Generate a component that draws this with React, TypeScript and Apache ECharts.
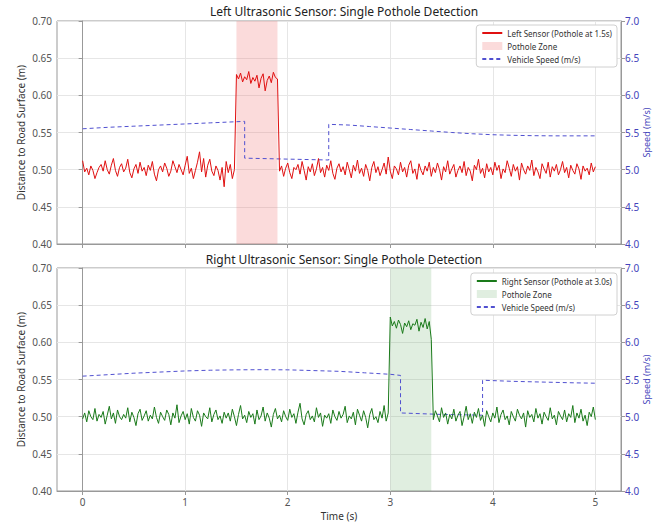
import React, { useEffect, useRef } from "react";
import * as echarts from "echarts";

// Sampling step of the sensor recordings (seconds)
const SAMPLE_STEP_S = 0.02;

// Left ultrasonic sensor readings (mm), t = 0 .. 5 s
const leftSensorMm = [
  512, 497, 502, 493, 505, 499, 488, 496, 503, 507,
  498, 512, 500, 494, 506, 515, 499, 491, 503, 508,
  497, 502, 514, 496, 489, 501, 507, 495, 510, 498,
  503, 492, 506, 499, 511, 494, 485, 500, 505, 497,
  509, 502, 491, 498, 512, 504, 496, 507, 500, 493,
  506, 518, 495, 502, 488, 499, 510, 524, 497, 515,
  490, 506, 514, 498, 492, 505, 499, 486, 503, 477,
  511, 496, 507, 488, 500,
  628, 622, 630, 618, 625, 621, 632, 616, 624, 619,
  627, 610, 623, 629, 606, 620, 626, 617, 631, 624, 622,
  498, 505, 491, 502, 509, 496, 488, 503, 500, 507,
  494, 511, 499, 486, 504, 497, 508, 492, 501, 515,
  496, 503, 490, 506, 499, 512, 495, 487, 502, 508,
  497, 504, 493, 510, 500, 489, 506, 498, 513, 495,
  502, 491, 507, 499, 485, 503, 511, 496, 504, 492,
  500, 509, 494, 517, 498, 488, 505, 501, 493, 510,
  497, 503, 490, 506, 512, 495, 501, 487, 508, 499,
  493, 505, 498, 510, 491, 503, 496, 509, 500, 486,
  504, 497, 512, 494, 501, 507, 490, 499, 505, 496,
  511, 492, 503, 498, 485, 506, 500, 514, 495, 502,
  489, 508, 497, 503, 493, 510, 499, 506, 488, 501,
  496, 512, 502, 491, 507, 498, 504, 486, 509, 500,
  494, 505, 499, 513, 492, 503, 497, 488, 508, 501,
  495, 510, 490, 504, 498, 507, 493, 500, 511, 496,
  503, 489, 506, 499, 494, 508, 501, 487, 505, 498,
  502, 493, 509, 497, 504,
];

// Right ultrasonic sensor readings (mm), t = 0 .. 5 s
const rightSensorMm = [
  497, 505, 493, 508, 500, 496, 511, 494, 503, 499,
  507, 490, 502, 514, 497, 505, 491, 509, 500, 496,
  503, 498, 512, 493, 506, 499, 488, 504, 510, 495,
  501, 508, 494, 502, 497, 513, 499, 491, 506, 500,
  495, 509, 503, 489, 505, 498, 516, 492, 501, 507,
  496, 504, 490, 511, 499, 494, 508, 502, 487, 505,
  500, 497, 512, 493, 503, 509, 496, 501, 491, 506,
  498, 505, 494, 510, 500, 488, 503, 515, 497, 502,
  492, 507, 499, 504, 490, 509, 496, 501, 513, 494,
  505, 498, 486, 503, 511, 497, 502, 493, 508, 500,
  495, 510, 499, 504, 491, 506, 518, 497, 489, 503,
  508, 496, 501, 493, 512, 499, 505, 487, 502, 498,
  504, 491, 509, 500, 495, 507, 498, 503, 514, 492,
  501, 497, 506, 489, 510, 502, 494, 508, 499, 485,
  503, 511, 496, 500, 492, 507, 498, 515, 494, 505,
  634, 622, 628, 619, 630, 624, 612, 626, 621, 629,
  617, 625, 623, 631, 615, 627, 620, 632, 618, 628, 604,
  496, 508, 501, 493, 512, 499, 505, 490, 503, 497,
  510, 494, 502, 507, 488, 500, 514, 496, 504, 491,
  506, 499, 511, 495, 502, 487, 508, 500, 493, 505,
  498, 513, 492, 503, 509, 496, 501, 489, 507, 500,
  494, 510, 502, 497, 505, 486, 508, 499, 503, 493,
  511, 498, 504, 490, 506, 500, 495, 512, 497, 502,
  489, 507, 501, 496, 509, 493, 504, 499, 515, 492,
  505, 498, 510, 494, 502, 488, 506, 500, 513, 496,
];

// Vehicle speed (m/s) as [time s, speed]
const leftSpeed: [number, number][] = [
  [0, 5.55], [0.25, 5.57], [0.5, 5.585], [0.75, 5.6], [1.0, 5.615],
  [1.25, 5.63], [1.5, 5.645], [1.58, 5.65], [1.58, 5.155], [1.8, 5.148],
  [2.0, 5.142], [2.2, 5.136], [2.4, 5.13], [2.4, 5.61], [2.6, 5.6],
  [2.8, 5.58], [3.0, 5.56], [3.2, 5.54], [3.4, 5.52], [3.6, 5.5],
  [3.8, 5.483], [4.0, 5.47], [4.2, 5.462], [4.4, 5.457], [4.6, 5.455],
  [4.8, 5.455], [5.0, 5.455],
];
const rightSpeed: [number, number][] = [
  [0, 5.545], [0.25, 5.565], [0.5, 5.585], [0.75, 5.6], [1.0, 5.615],
  [1.25, 5.625], [1.5, 5.63], [1.75, 5.632], [2.0, 5.63], [2.25, 5.62],
  [2.5, 5.61], [2.75, 5.59], [3.0, 5.57], [3.1, 5.555], [3.1, 5.05],
  [3.3, 5.04], [3.5, 5.03], [3.7, 5.025], [3.9, 5.02], [3.9, 5.49],
  [4.2, 5.475], [4.5, 5.465], [4.8, 5.455], [5.0, 5.45],
];

const leftZone = [1.5, 1.9];
const rightZone = [3.0, 3.4];
const timeTicks = [0, 1, 2, 3, 4, 5];

const FONT = "Noto Sans";
const SPEED_COLOR = "#5050d0";

const toSeries = (mm: number[]) =>
  mm.map((v, i) => [+(i * SAMPLE_STEP_S).toFixed(2), v / 1000]);

export default function App() {
  const ref = useRef<HTMLDivElement>(null);
  useEffect(() => {
    if (!ref.current) return;
    const chart = echarts.init(ref.current, undefined, { renderer: "svg" });

    const xAxisBase = (gridIndex: number, showLabels: boolean) => ({
      type: "value",
      gridIndex,
      min: -0.25,
      max: 5.25,
      name: showLabels ? "Time (s)" : "",
      nameLocation: "middle",
      nameGap: 20,
      nameTextStyle: { fontFamily: FONT, fontSize: 10, color: "#333" },
      axisLine: { show: true, lineStyle: { color: "#999" } },
      axisTick: { show: true, length: 4, lineStyle: { color: "#999" }, customValues: timeTicks },
      axisLabel: {
        show: showLabels,
        customValues: timeTicks,
        fontFamily: FONT,
        fontSize: 10,
        color: "#555",
        margin: 6,
      },
      splitLine: { show: true, lineStyle: { color: "#e6e6e6" } },
    });
    const yLeft = (gridIndex: number) => ({
      type: "value",
      gridIndex,
      min: 0.4,
      max: 0.7,
      interval: 0.05,
      name: "Distance to Road Surface (m)",
      nameLocation: "middle",
      nameGap: 31,
      nameMoveOverlap: false,
      nameTextStyle: { fontFamily: FONT, fontSize: 10, color: "#333" },
      axisLine: { show: true, lineStyle: { color: "#999" } },
      axisTick: { show: true, length: 4, lineStyle: { color: "#999" } },
      axisLabel: {
        formatter: (v: number) => v.toFixed(2),
        fontFamily: FONT,
        fontSize: 10,
        color: "#555",
        margin: 5,
      },
      splitLine: { show: true, lineStyle: { color: "#e6e6e6" } },
    });
    const yRight = (gridIndex: number) => ({
      type: "value",
      gridIndex,
      position: "right",
      min: 4,
      max: 7,
      interval: 0.5,
      name: "Speed (m/s)",
      nameLocation: "middle",
      nameGap: 21,
      nameMoveOverlap: false,
      nameTextStyle: { fontFamily: FONT, fontSize: 9, color: "#4444bb" },
      axisLine: { show: true, lineStyle: { color: "#999" } },
      axisTick: { show: true, length: 4, lineStyle: { color: "#999" } },
      axisLabel: {
        formatter: (v: number) => v.toFixed(1),
        fontFamily: FONT,
        fontSize: 10,
        color: "#4444bb",
        margin: 4,
      },
      splitLine: { show: false },
    });

    const legendBase = (top: number, names: string[], zoneName: string, zoneColor: string) => ({
      orient: "vertical",
      right: 36,
      top,
      backgroundColor: "#fff",
      borderColor: "#d0d0d0",
      borderWidth: 1,
      borderRadius: 3,
      padding: [4, 5, 4, 5],
      itemGap: 5,
      itemWidth: 20,
      itemHeight: 8,
      textStyle: { fontFamily: FONT, fontSize: 8, color: "#333" },
      formatter: (n: string) => n.replace(/ #\d$/, ""),
      data: names.map((n) =>
        n === zoneName
          ? { name: n, icon: "rect", itemStyle: { color: zoneColor } }
          : { name: n, itemStyle: { opacity: 0 } }
      ),
    });

    const sensorSeries = (name: string, idx: number, data: number[][], color: string) => ({
      name,
      type: "line",
      xAxisIndex: idx,
      yAxisIndex: idx * 2,
      data,
      symbol: "none",
      showSymbol: false,
      lineStyle: { color, width: 1 },
      itemStyle: { color },
      z: 3,
    });
    const zoneSeries = (name: string, idx: number, zone: number[], color: string) => ({
      name,
      type: "line",
      xAxisIndex: idx,
      yAxisIndex: idx * 2,
      data: [],
      symbol: "none",
      itemStyle: { color },
      lineStyle: { color },
      z: 1,
      markArea: {
        silent: true,
        itemStyle: { color },
        data: [[{ xAxis: zone[0] }, { xAxis: zone[1] }]],
      },
    });
    const speedSeries = (name: string, idx: number, data: [number, number][]) => ({
      name,
      type: "line",
      xAxisIndex: idx,
      yAxisIndex: idx * 2 + 1,
      data,
      symbol: "none",
      showSymbol: false,
      lineStyle: { color: SPEED_COLOR, width: 1, type: [4, 3] },
      itemStyle: { color: SPEED_COLOR },
      z: 2,
    });

    const pink = "rgba(238, 110, 110, 0.25)";
    const green = "rgba(100, 170, 100, 0.2)";
    const n1 = ["Left Sensor (Pothole at 1.5s)", "Pothole Zone", "Vehicle Speed (m/s)"];
    const n2 = ["Right Sensor (Pothole at 3.0s)", "Pothole Zone #2", "Vehicle Speed (m/s) #2"];

    const gridBase = {
      left: 57,
      right: 32,
      height: 223,
      show: true,
      borderColor: "#999",
      borderWidth: 1,
      outerBoundsMode: "none",
      containLabel: false,
    };

    chart.setOption({
      animation: false,
      backgroundColor: "#fff",
      title: [
        {
          text: "Left Ultrasonic Sensor: Single Pothole Detection",
          left: 339,
          textAlign: "center",
          top: 0,
          textStyle: { fontFamily: FONT, fontSize: 12, fontWeight: "normal", color: "#222" },
        },
        {
          text: "Right Ultrasonic Sensor: Single Pothole Detection",
          left: 339,
          textAlign: "center",
          top: 248,
          textStyle: { fontFamily: FONT, fontSize: 12, fontWeight: "normal", color: "#222" },
        },
      ],
      grid: [
        { ...gridBase, top: 21 },
        { ...gridBase, top: 268 },
      ],
      legend: [legendBase(25, n1, "Pothole Zone", pink), legendBase(273, n2, "Pothole Zone #2", green)],
      xAxis: [xAxisBase(0, false), xAxisBase(1, true)],
      yAxis: [yLeft(0), yRight(0), yLeft(1), yRight(1)],
      series: [
        sensorSeries(n1[0], 0, toSeries(leftSensorMm), "#e01010"),
        zoneSeries(n1[1], 0, leftZone, pink),
        speedSeries(n1[2], 0, leftSpeed),
        sensorSeries(n2[0], 1, toSeries(rightSensorMm), "#1a7a1a"),
        zoneSeries(n2[1], 1, rightZone, green),
        speedSeries(n2[2], 1, rightSpeed),
      ],
    });
    return () => chart.dispose();
  }, []);
  return <div ref={ref} style={{ width: 653, height: 522, position: "absolute", left: 0, top: 0 }} />;
}
